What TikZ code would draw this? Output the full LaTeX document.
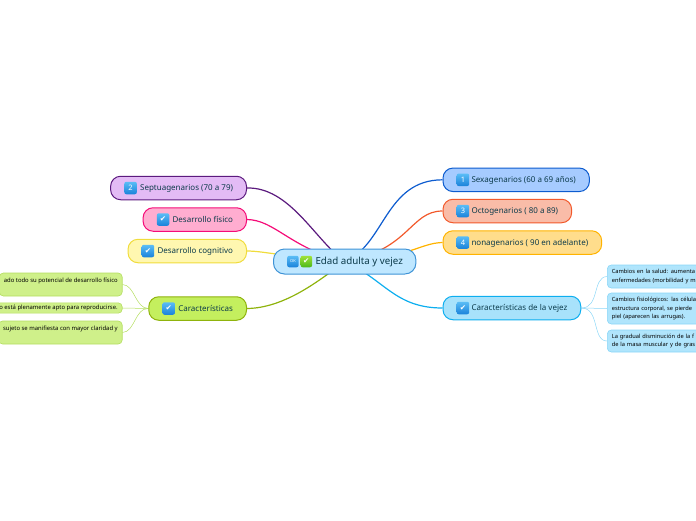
\documentclass[tikz,border=0pt]{standalone}
\usepackage{fontspec}
\setmainfont{Noto Sans}
\newfontfamily\symfont{DejaVu Sans}
\usetikzlibrary{positioning,backgrounds}
\definecolor{inkc}{HTML}{0B3A4A}
\definecolor{rootf}{HTML}{BFE7FF}\definecolor{rootd}{HTML}{3F93D6}
\definecolor{sexaf}{HTML}{A6CBFF}\definecolor{sexad}{HTML}{0D5CCF}
\definecolor{octof}{HTML}{F9BCA8}\definecolor{octod}{HTML}{F2592B}
\definecolor{nonaf}{HTML}{FFDD8C}\definecolor{nonad}{HTML}{FFB300}
\definecolor{vejezf}{HTML}{A8E2FB}\definecolor{vejezd}{HTML}{0DAEEF}
\definecolor{septf}{HTML}{E3BBF5}\definecolor{septd}{HTML}{5B1A7E}
\definecolor{fisf}{HTML}{FFADD0}\definecolor{fisd}{HTML}{F50C78}
\definecolor{cogf}{HTML}{FFF7B0}\definecolor{cogd}{HTML}{F0DC3C}
\definecolor{carf}{HTML}{C4EF5E}\definecolor{card}{HTML}{8FB30C}
\definecolor{lleaff}{HTML}{CFF08A}\definecolor{lleafd}{HTML}{B4DE60}
\definecolor{rleaff}{HTML}{B0E5FC}\definecolor{rleafd}{HTML}{8AD6F7}
\definecolor{icont}{HTML}{5ABDF6}\definecolor{iconb}{HTML}{1A82DA}
\definecolor{okt}{HTML}{A0E23C}\definecolor{okb}{HTML}{4CB81A}
\tikzset{
  branch/.style={draw=#1d, fill=#1f, line width=1pt, rounded corners=10pt, minimum height=23.5pt,
    inner xsep=13.5pt, inner ysep=0pt, text=inkc, text height=6.5pt, text depth=1.5pt, font=\fontsize{8}{10}\selectfont},
  leaf/.style={draw=#1d, fill=#1f, line width=0.6pt, rounded corners=4pt, inner xsep=4.5pt, inner ysep=2.2pt,
    align=left, text=black, font=\fontsize{5.9}{8.9}\selectfont},
  rightleaf/.style={leaf=rleaf, anchor=west, text width=105pt, font=\fontsize{5.7}{8.9}\selectfont},
  iconbox/.style={rounded corners=2pt, minimum size=12.5pt, inner sep=0pt, top color=icont, bottom color=iconb,
    text=white, font=\bfseries\fontsize{7.5}{8}\selectfont},
  link/.style={line width=1.2pt, draw=#1},
  twig/.style={line width=0.5pt, draw=#1}
}
\newcommand{\chk}{{\symfont\char"2714}}
\begin{document}
\begin{tikzpicture}[x=1pt,y=-1pt]
  \useasboundingbox (0,0) rectangle (696,520);
  % Central topic
  \node[draw=rootd, fill=rootf, line width=1pt, rounded corners=11pt, minimum height=25pt, inner xsep=13pt, inner ysep=0pt,
    text=inkc, anchor=west, text height=7.5pt, text depth=2pt, font=\fontsize{9.75}{11}\selectfont] (root) at (273,261.5) {\hspace{29pt}Edad adulta y vejez};
  \node[iconbox, minimum size=11.5pt, font=\bfseries\fontsize{4}{5}\selectfont, right=14pt of root.west] (rootok) {OK};
  \node[iconbox, top color=okt, bottom color=okb, minimum size=11.5pt, right=1.5pt of rootok] (rootchk) {\chk};
  % Right branches
  \node[branch=sexa, anchor=west] (sexa) at (442.5,179.8) {\hspace{15pt}Sexagenarios (60 a 69 años)};
  \node[branch=octo, anchor=west] (octo) at (442.5,211) {\hspace{15pt}Octogenarios ( 80 a 89)};
  \node[branch=nona, anchor=west] (nona) at (442.5,242.5) {\hspace{15pt}nonagenarios ( 90 en adelante)};
  \node[branch=vejez, anchor=west] (vejez) at (442.5,308) {\hspace{15pt}Características de la vejez};
  \node[iconbox, right=14pt of sexa.west] (sexaicon) {1};
  \node[iconbox, right=14pt of octo.west] (octoicon) {3};
  \node[iconbox, right=14pt of nona.west] (nonaicon) {4};
  \node[iconbox, right=14pt of vejez.west] (vejezicon) {\chk};
  % Left branches
  \node[branch=sept, anchor=east] (sept) at (247,188) {\hspace{16pt}Septuagenarios (70 a 79)};
  \node[branch=fis, anchor=east] (fis) at (247,219.5) {\hspace{16pt}Desarrollo físico};
  \node[branch=cog, anchor=east] (cog) at (247,251) {\hspace{16pt}Desarrollo cognitivo};
  \node[branch=car, anchor=east] (car) at (247,308.5) {\hspace{16pt}Características};
  \node[iconbox, right=14pt of sept.west] (septicon) {2};
  \node[iconbox, right=14pt of fis.west] (fisicon) {\chk};
  \node[iconbox, right=14pt of cog.west] (cogicon) {\chk};
  \node[iconbox, right=14pt of car.west] (caricon) {\chk};
  % Leaves on the left
  \node[leaf=lleaf, anchor=east, minimum height=23pt] (lone) at (122.5,284.5) {ado todo su potencial de desarrollo físico\hspace{1pt}\\~};
  \node[leaf=lleaf, anchor=east] (ltwo) at (122.5,308) {o está plenamente apto para reproducirse.};
  \node[leaf=lleaf, anchor=east, minimum height=23pt] (lthree) at (122.5,332.5) {sujeto se manifiesta con mayor claridad y\hspace{2.5pt}\\~};
  % Leaves on the right
  \node[rightleaf, minimum height=23pt] (rone) at (607,276.5) {Cambios en la salud: aumenta\\enfermedades (morbilidad y m};
  \node[rightleaf, minimum height=31pt] (rtwo) at (607,308.5) {Cambios fisiológicos: las célula\\estructura corporal, se pierde\\piel (aparecen las arrugas).};
  \node[rightleaf, minimum height=22pt] (rthree) at (607,341) {La gradual disminución de la f\\de la masa muscular y de gras};
  % Connectors
  \begin{scope}[on background layer]
    \draw[link=sexad] (root.center) .. controls (385,245) and (385,180) .. (sexa.west);
    \draw[link=octod] (root.center) .. controls (410,250) and (410,211) .. (octo.west);
    \draw[link=nonad] (root.center) .. controls (410,258) and (420,243) .. (nona.west);
    \draw[link=vejezd] (root.center) .. controls (385,280) and (395,308) .. (vejez.west);
    \draw[link=septd] (root.center) .. controls (315,240) and (290,187) .. (sept.east);
    \draw[link=fisd] (root.center) .. controls (290,248) and (275,220) .. (fis.east);
    \draw[link=cogd] (root.center) .. controls (290,258) and (265,251) .. (cog.east);
    \draw[link=card] (root.center) .. controls (320,280) and (285,308) .. (car.east);
    \draw[twig=lleafd] (car.west) .. controls (135,308) and (135,285) .. (lone.east);
    \draw[twig=lleafd] (car.west) -- (ltwo.east);
    \draw[twig=lleafd] (car.west) .. controls (135,308) and (135,332) .. (lthree.east);
    \draw[twig=rleafd] (vejez.east) .. controls (600,308) and (592,277) .. (rone.west);
    \draw[twig=rleafd] (vejez.east) -- (rtwo.west);
    \draw[twig=rleafd] (vejez.east) .. controls (600,308) and (592,341) .. (rthree.west);
  \end{scope}
\end{tikzpicture}
\end{document}
